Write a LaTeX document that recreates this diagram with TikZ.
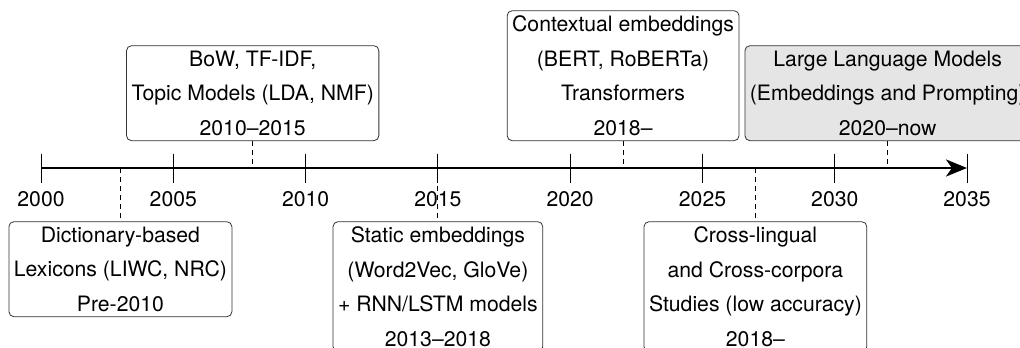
\documentclass[tikz,border=0pt]{standalone}
\usepackage{fontspec}
\setmainfont{TeX Gyre Heros}
\usetikzlibrary{arrows.meta}

\begin{document}
\begin{tikzpicture}[x=1pt, y=-1pt,
  era/.style={draw=black!80, line width=0.8pt, rounded corners=5pt,
    align=center, inner xsep=5pt, inner ysep=0pt,
    font=\fontsize{21.2}{34.5}\selectfont},
  yearlbl/.style={anchor=base, inner sep=0pt, font=\fontsize{21.2}{24}\selectfont},
  tickmark/.style={line width=0.9pt},
  link/.style={line width=0.9pt, dash pattern=on 5pt off 4pt},
  axisline/.style={line width=2.8pt, -{Stealth[length=21pt, width=17pt, inset=6pt]}}
]
\useasboundingbox (0,0) rectangle (1020,348);
\clip (0,0) rectangle (1020,348);

% timeline axis (2000 at x=41, 26.46 units per year)
\coordinate (a0) at (41,168);
\coordinate (a1) at (967,168);
\draw[axisline] (a0) -- (a1);

% ticks and year labels
\foreach \yr/\px in {2000/41, 2005/173.3, 2010/305.6, 2015/437.9,
                      2020/570.2, 2025/702.5, 2030/834.8, 2035/967} {
  \coordinate (tt\yr) at (\px,153.5);
  \coordinate (tb\yr) at (\px,182.5);
  \draw[tickmark] (tt\yr) -- (tb\yr);
  \node[yearlbl] (y\yr) at (\px,206.7) {\yr};
}

% attachment points on the axis
\coordinate (p2003) at (120.4,168);
\coordinate (p2008) at (252.7,168);
\coordinate (p2015) at (437.9,168);
\coordinate (p2022) at (623.1,168);
\coordinate (p2027) at (755.4,168);
\coordinate (p2032) at (887.7,168);

% eras above the axis
\node[era, minimum height=95pt] (bow) at (252.7,93.2)
  {BoW, TF-IDF,\\Topic Models (LDA, NMF)\\2010--2015};
\node[era, minimum height=130pt] (ctx) at (623.1,75.7)
  {Contextual embeddings\\(BERT, RoBERTa)\\Transformers\\2018--};
\node[era, minimum height=95pt, fill=black!10] (llm) at (887.7,93.2)
  {Large Language Models\\(Embeddings and Prompting)\\2020--now};

% eras below the axis
\node[era, minimum height=95pt] (dict) at (120.4,269.2)
  {Dictionary-based\\Lexicons (LIWC, NRC)\\Pre-2010};
\node[era, minimum height=130pt] (stat) at (437.9,286.7)
  {Static embeddings\\(Word2Vec, GloVe)\\+ RNN/LSTM models\\2013--2018};
\node[era, minimum height=130pt] (cross) at (755.4,286.7)
  {Cross-lingual\\and Cross-corpora\\Studies (low accuracy)\\2018--};

% dashed links from each era to its point on the axis
\draw[link] (bow.south) -- (p2008);
\draw[link] (ctx.south) -- (p2022);
\draw[link] (llm.south) -- (p2032);
\draw[link] (p2003) -- (dict.north);
\draw[link] (p2015) -- (stat.north);
\draw[link] (p2027) -- (cross.north);
\end{tikzpicture}
\end{document}
